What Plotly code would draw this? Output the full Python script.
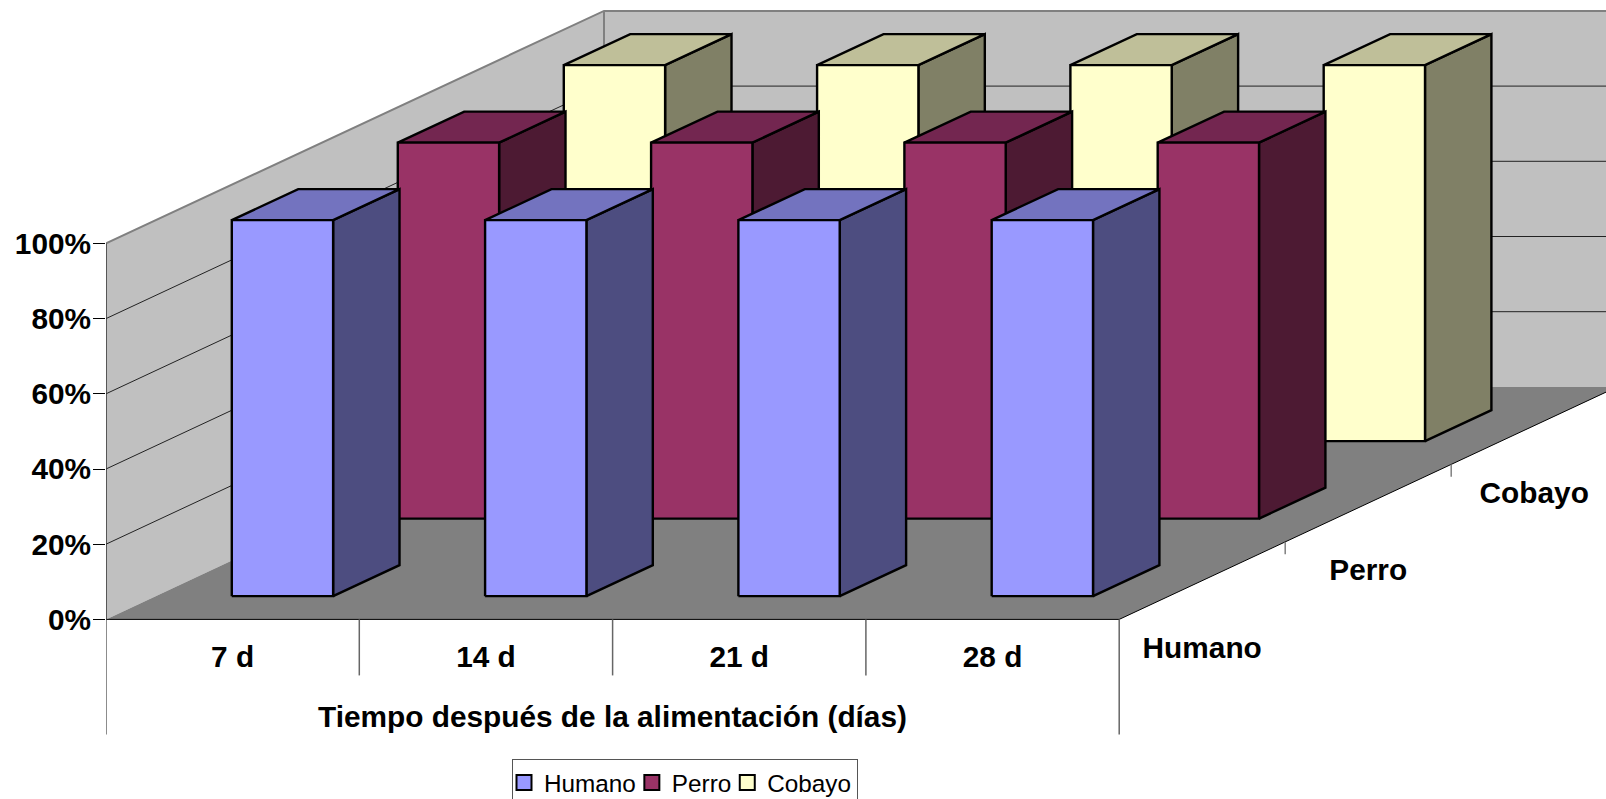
import plotly.graph_objects as go

# Chart values
categories = ["7 d", "14 d", "21 d", "28 d"]
series_names = ["Humano", "Perro", "Cobayo"]
humano = [100, 100, 100, 100]
perro = [100, 100, 100, 100]
cobayo = [100, 100, 100, 100]
percent_ticks = [0, 20, 40, 60, 80, 100]
percent_labels = ["0%", "20%", "40%", "60%", "80%", "100%"]

# Fill colours per series: front, top and side faces
front_colors = ["#9999FF", "#993366", "#FFFFCC"]
top_colors = ["#7373BF", "#732650", "#BFBF99"]
side_colors = ["#4D4D80", "#4D1A33", "#808066"]

# Oblique projection: one depth slot moves a point right and up in axis units
DEPTH_X = 166 / 253.3
DEPTH_Y = 77.5 / 3.76
BAR_WIDTH = 0.4
BAR_DEPTH = 0.4
FONT = "Liberation Sans"


def project(x, v, d):
    return x + DEPTH_X * d, v + DEPTH_Y * d


def polygon(points):
    xs, ys = zip(*[project(*p) for p in points + points[:1]])
    return list(xs), list(ys)


fig = go.Figure()


def add_poly(points, fill, line="black", width=2.4):
    xs, ys = polygon(points)
    fig.add_trace(go.Scatter(x=xs, y=ys, mode="lines", fill="toself", fillcolor=fill,
                             line=dict(color=line, width=width), showlegend=False,
                             hoverinfo="skip"))


def add_line(points, color, width=1):
    xs, ys = zip(*[project(*p) for p in points])
    fig.add_trace(go.Scatter(x=list(xs), y=list(ys), mode="lines",
                             line=dict(color=color, width=width), showlegend=False,
                             hoverinfo="skip"))


# Legend entries
for name, color in zip(series_names, front_colors):
    fig.add_trace(go.Scatter(x=[None], y=[None], mode="markers", name=name,
                             marker=dict(symbol="square", size=15, color=color,
                                         line=dict(color="black", width=2))))

n_cat = len(categories)
n_ser = len(series_names)
top = percent_ticks[-1]

# Walls and floor
add_poly([(0, 0, n_ser), (n_cat, 0, n_ser), (n_cat, top, n_ser), (0, top, n_ser)], "#C0C0C0", "#C0C0C0", 0)
add_poly([(0, 0, 0), (0, 0, n_ser), (0, top, n_ser), (0, top, 0)], "#C0C0C0", "#C0C0C0", 0)
add_poly([(0, 0, 0), (n_cat, 0, 0), (n_cat, 0, n_ser), (0, 0, n_ser)], "#808080", "#808080", 0)

# Gridlines across the side wall and the back wall
for tick in percent_ticks[1:-1]:
    add_line([(0, tick, 0), (0, tick, n_ser), (n_cat, tick, n_ser)], "#222222", 1)

# Wall outlines
add_line([(0, top, 0), (0, top, n_ser), (n_cat, top, n_ser)], "#808080", 2)
add_line([(0, 0, n_ser), (0, top, n_ser)], "#808080", 2)
add_line([(0, 0, 0), (0, top, 0)], "#333333", 1.5)

# Bars, painted from the rear series forward
for s, values in reversed(list(enumerate([humano, perro, cobayo]))):
    d0 = s + (1 - BAR_DEPTH) / 2
    d1 = d0 + BAR_DEPTH
    for i, v in enumerate(values):
        x0 = i + (1 - BAR_WIDTH) / 2
        x1 = x0 + BAR_WIDTH
        add_poly([(x1, 0, d0), (x1, 0, d1), (x1, v, d1), (x1, v, d0)], side_colors[s])
        add_poly([(x0, v, d0), (x1, v, d0), (x1, v, d1), (x0, v, d1)], top_colors[s])
        add_poly([(x0, 0, d0), (x1, 0, d0), (x1, v, d0), (x0, v, d0)], front_colors[s])

# Floor edges and the multi-level axis separators
add_line([(0, 0, 0), (n_cat, 0, 0), (n_cat, 0, n_ser)], "black", 1)
for i in range(n_cat + 1):
    low = -30.6 if i in (0, n_cat) else -14.9
    add_line([(i, 0, 0), (i, low, 0)], "#666666", 1.5)
for s in range(1, n_ser):
    add_line([(n_cat, 0, s), (n_cat, -3.3, s)], "#808080", 1.5)

# Depth axis labels
label_xy = [project(n_cat, -18.5, s + 0.5) for s in range(n_ser)]
fig.add_trace(go.Scatter(x=[p[0] for p in label_xy], y=[p[1] for p in label_xy],
                         mode="text", text=series_names, showlegend=False, hoverinfo="skip",
                         textfont=dict(family=FONT, size=29.8, color="black", weight="bold"),
                         cliponaxis=False))

W, H = 1606, 799
LEFT, ZERO_PX, CAT_PX, PCT_PX = 106, 619.4, 253.3, 3.76

fig.update_layout(
    width=W, height=H,
    margin=dict(l=LEFT, r=0, t=0, b=0, autoexpand=False),
    paper_bgcolor="white", plot_bgcolor="white",
    font=dict(family=FONT, color="black"),
    xaxis=dict(range=[0, (W - LEFT) / CAT_PX], anchor="free", position=(H - ZERO_PX) / H,
               tickmode="array", tickvals=[i + 0.5 for i in range(n_cat)], ticktext=categories,
               ticks="", showgrid=False, zeroline=False, showline=False, ticklabelstandoff=17,
               tickfont=dict(family=FONT, size=29.8, weight="bold", color="black")),
    yaxis=dict(range=[(ZERO_PX - H) / PCT_PX, ZERO_PX / PCT_PX], tickmode="array",
               tickvals=percent_ticks, ticktext=percent_labels, ticks="outside", ticklen=12,
               tickwidth=1, tickcolor="black", showgrid=False, zeroline=False, showline=False,
               ticklabelstandoff=-4,
               tickfont=dict(family=FONT, size=29.8, weight="bold", color="black")),
    legend=dict(orientation="h", x=(512 - LEFT) / (W - LEFT), xanchor="left", y=-0.009, yanchor="bottom",
                bordercolor="#555555", borderwidth=1, bgcolor="white", indentation=-9,
                font=dict(family=FONT, size=24.3, color="black"), traceorder="normal"),
    annotations=[dict(text="<b>Tiempo después de la alimentación (días)</b>", x=2, y=-25.7,
                      xref="x", yref="y", showarrow=False,
                      font=dict(family=FONT, size=29.8, color="black"))],
)

fig.write_html("out.html", config={"displayModeBar": False})
